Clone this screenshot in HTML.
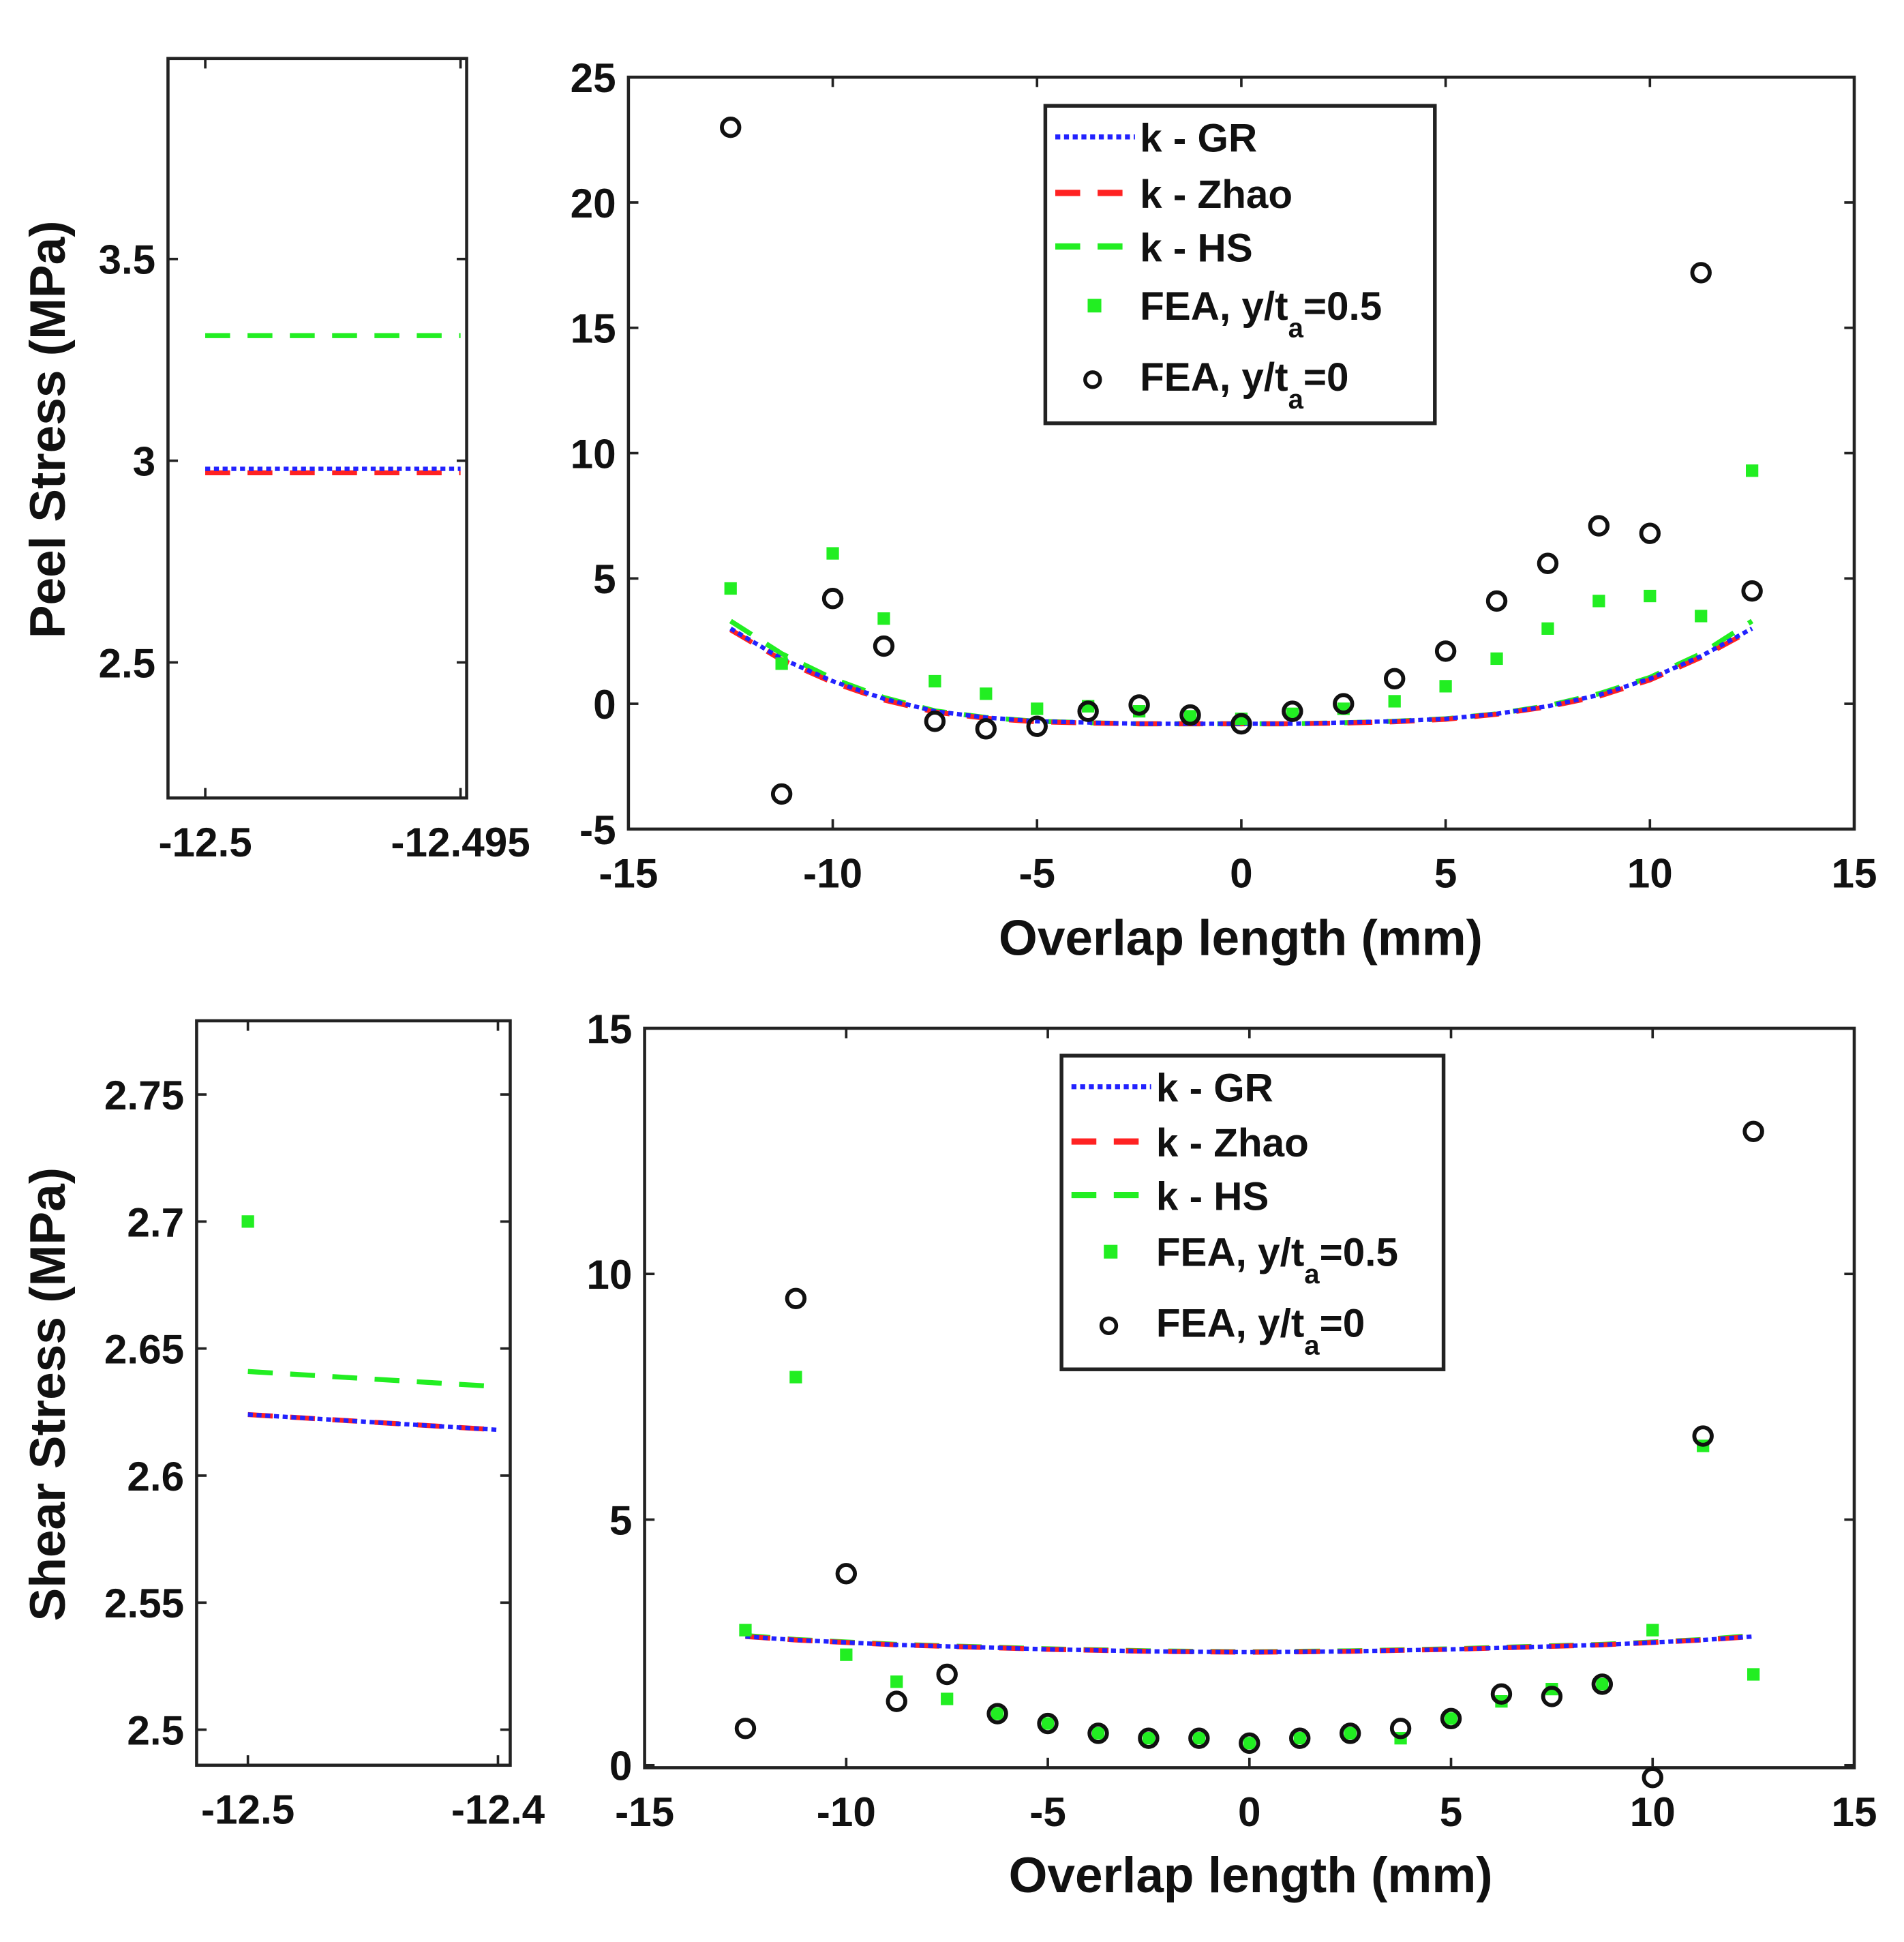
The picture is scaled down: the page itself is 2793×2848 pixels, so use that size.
<!DOCTYPE html>
<html><head><meta charset="utf-8">
<style>
html,body{margin:0;padding:0;background:#fff;}
svg{display:block;}
text{font-family:"Liberation Sans",Arial,sans-serif;font-weight:bold;fill:#111;}
</style></head>
<body>
<svg id="fig" width="2793" height="2848" viewBox="0 0 1530 1560" preserveAspectRatio="none" xmlns="http://www.w3.org/2000/svg"></svg>
<script>
// ---------- data ----------
const xPts = [-12.5,-11.25,-10,-8.75,-7.5,-6.25,-5,-3.75,-2.5,-1.25,0,1.25,2.5,3.75,5,6.25,7.5,8.75,10,11.25,12.5];
const peelFea0 = [23,-3.6,4.2,2.3,-0.7,-1,-0.9,-0.3,-0.05,-0.45,-0.8,-0.3,0,1,2.1,4.1,5.6,7.1,6.8,17.2,4.5];
const peelFea05 = [4.6,1.6,6,3.4,0.9,0.4,-0.2,-0.1,-0.3,-0.5,-0.6,-0.4,-0.2,0.1,0.7,1.8,3,4.1,4.3,3.5,9.3];
const peelGR = [3.0,1.8,0.9,0.2,-0.3,-0.55,-0.7,-0.75,-0.8,-0.8,-0.8,-0.8,-0.75,-0.7,-0.6,-0.4,-0.1,0.35,1.0,1.9,3.0];
const peelZhao = [2.95,1.75,0.85,0.15,-0.33,-0.58,-0.72,-0.77,-0.8,-0.8,-0.8,-0.8,-0.77,-0.72,-0.62,-0.42,-0.12,0.3,0.95,1.85,2.95];
const peelHS = [3.3,2.0,1.0,0.25,-0.28,-0.55,-0.7,-0.76,-0.8,-0.8,-0.8,-0.8,-0.76,-0.7,-0.6,-0.4,-0.08,0.4,1.05,2.0,3.3];
const shearFea0 = [0.75,9.5,3.9,1.3,1.85,1.05,0.85,0.65,0.55,0.55,0.45,0.55,0.65,0.75,0.95,1.45,1.4,1.65,-0.25,6.7,12.9];
const shearFea05 = [2.75,7.9,2.25,1.7,1.35,1.05,0.85,0.65,0.55,0.55,0.45,0.55,0.65,0.55,0.95,1.3,1.55,1.65,2.75,6.5,1.85];
const shearGR = [2.62,2.55,2.5,2.45,2.42,2.39,2.36,2.34,2.32,2.31,2.3,2.31,2.32,2.34,2.36,2.39,2.42,2.45,2.5,2.55,2.62];
const shearHS = [2.64,2.56,2.51,2.46,2.43,2.4,2.37,2.35,2.33,2.32,2.31,2.32,2.33,2.35,2.37,2.4,2.43,2.46,2.51,2.56,2.64];
// insets
const peelInsetX = [-12.5,-12.495];
const peelInsetGR = [2.98,2.98];
const peelInsetZhao = [2.97,2.97];
const peelInsetHS = [3.31,3.31];
const shearInsetX = [-12.5,-12.4];
const shearInsetGR = [2.624,2.618];
const shearInsetHS = [2.641,2.635];
const shearInsetFeaX = [-12.5];
const shearInsetFea05 = [2.70];
const mainXTicks = [-15,-10,-5,0,5,10,15];
const peelYTicks = [-5,0,5,10,15,20,25];
const shearYTicks = [0,5,10,15];
const peelInsetYTicks = [2.5,3,3.5];
const shearInsetYTicks = [2.5,2.55,2.6,2.65,2.7,2.75];
const legendLabels = ["k - GR","k - Zhao","k - HS","FEA, y/t","FEA, y/t"];

const NS="http://www.w3.org/2000/svg";
const svg=document.getElementById('fig');
function mk(tag,attrs,parent){const e=document.createElementNS(NS,tag);for(const k in attrs)e.setAttribute(k,attrs[k]);(parent||svg).appendChild(e);return e;}

function panel(name,box,xd,yd,xticks,yticks,xfmt,yfmt){
  const g=mk('g',{});
  
  
  const sx=v=>box.l+(v-xd[0])/(xd[1]-xd[0])*(box.r-box.l);
  const sy=v=>box.b-(v-yd[0])/(yd[1]-yd[0])*(box.b-box.t);
  const r=mk('rect',{x:box.l,y:box.t,width:box.r-box.l,height:box.b-box.t,fill:'#fff',stroke:'#222','stroke-width':2.5},g);
  
  
  xticks.forEach(v=>{const x=sx(v);
    mk('line',{x1:x,x2:x,y1:box.b,y2:box.b-8,stroke:'#222','stroke-width':2},g);
    mk('line',{x1:x,x2:x,y1:box.t,y2:box.t+8,stroke:'#222','stroke-width':2},g);
    const t=mk('text',{x:x,y:box.b+47,'text-anchor':'middle','font-size':33},g);t.textContent=xfmt(v);
    
    
  });
  yticks.forEach(v=>{const y=sy(v);
    mk('line',{x1:box.l,x2:box.l+8,y1:y,y2:y,stroke:'#222','stroke-width':2},g);
    mk('line',{x1:box.r,x2:box.r-8,y1:y,y2:y,stroke:'#222','stroke-width':2},g);
    const t=mk('text',{x:box.l-10,y:y+12,'text-anchor':'end','font-size':33},g);t.textContent=yfmt(v);
    
    
  });
  return {g,sx,sy};
}
function line(P,xs,ys,color,dash,w,name){
  const d=xs.map((x,i)=>(i?'L':'M')+P.sx(x).toFixed(1)+' '+P.sy(ys[i]).toFixed(1)).join(' ');
  const p=mk('path',{d:d,fill:'none',stroke:color,'stroke-width':w,'stroke-dasharray':dash},P.g);
  
  
}
function squares(P,xs,ys,name){xs.forEach((x,i)=>{const r=mk('rect',{x:P.sx(x)-5,y:P.sy(ys[i])-5,width:10,height:10,fill:'#22ee22'},P.g);
  
  });}
function circles(P,xs,ys,name){xs.forEach((x,i)=>{const c=mk('circle',{cx:P.sx(x),cy:P.sy(ys[i]),r:7,fill:'none',stroke:'#111','stroke-width':3.2},P.g);
  
  });}
function legend(x,y,w,h,rows,name){
  const g=mk('g',{});
  
  
  mk('rect',{x:x,y:y,width:w,height:h,fill:'#fff',stroke:'#222','stroke-width':3},g);
  const styles=[['#2222ff','4 3',4],['#ff2222','20 14',5],['#22ee22','20 14',5]];
  rows.forEach((ry,i)=>{
    if(i<3){const s=styles[i];mk('line',{x1:x+8,x2:x+72,y1:ry,y2:ry,stroke:s[0],'stroke-dasharray':s[1],'stroke-width':s[2]},g);}
    else if(i==3){mk('rect',{x:x+34,y:ry-5,width:11,height:11,fill:'#22ee22'},g);}
    else {mk('circle',{cx:x+38,cy:ry+3,r:6,fill:'none',stroke:'#111','stroke-width':3},g);}
    const t=mk('text',{x:x+76,y:ry+12,'font-size':32},g);
    
    
    t.textContent=legendLabels[i];
    if(i>=3){const s=mk('tspan',{dy:14,'font-size':22},t);s.textContent='a';
      const s2=mk('tspan',{dy:-14},t);s2.textContent=i==3?'=0.5':'=0';}
  });
}
const fmtInt=v=>String(v);
let P=panel('peel-inset',{l:135,r:375,t:47,b:641},[-12.50073,-12.49488],[2.164,3.997],peelInsetX,peelInsetYTicks,v=>String(v),v=>String(v));
line(P,peelInsetX,peelInsetHS,'#22ee22','20 14',4,'inset-hs-line');
line(P,peelInsetX,peelInsetZhao,'#ff2222','20 14',4,'inset-zhao-line');
line(P,peelInsetX,peelInsetGR,'#2222ff','4 3',3.5,'inset-gr-line');
P=panel('peel-main',{l:505,r:1490,t:62,b:666},[-15,15],[-5,25],mainXTicks,peelYTicks,fmtInt,fmtInt);
line(P,xPts,peelHS,'#22ee22','20 14',4,'peel-hs-line');
line(P,xPts,peelZhao,'#ff2222','20 14',4,'peel-zhao-line');
line(P,xPts,peelGR,'#2222ff','4 3',3.5,'peel-gr-line');
squares(P,xPts,peelFea05,'peel-fea-05-point');
circles(P,xPts,peelFea0,'peel-fea-0-point');
legend(840,85,313,255,[110,155,198,245,302],'peel-legend');
P=panel('shear-inset',{l:158,r:410,t:820,b:1418},[-12.5205,-12.3951],[2.486,2.779],shearInsetX,shearInsetYTicks,v=>String(v),v=>String(v));
line(P,shearInsetX,shearInsetHS,'#22ee22','20 14',4,'inset-hs-line');
line(P,shearInsetX,shearInsetGR,'#ff2222','20 14',4,'inset-zhao-line');
line(P,shearInsetX,shearInsetGR,'#2222ff','4 3',3.5,'inset-gr-line');
squares(P,shearInsetFeaX,shearInsetFea05,'inset-fea-05-point');
P=panel('shear-main',{l:518,r:1490,t:826,b:1420},[-15,15],[-0.05,15],mainXTicks,shearYTicks,fmtInt,fmtInt);
line(P,xPts,shearHS,'#22ee22','20 14',4,'shear-hs-line');
line(P,xPts,shearGR,'#ff2222','20 14',4,'shear-zhao-line');
line(P,xPts,shearGR,'#2222ff','4 3',3.5,'shear-gr-line');
squares(P,xPts,shearFea05,'shear-fea-05-point');
circles(P,xPts,shearFea0,'shear-fea-0-point');
legend(853,848,307,252,[873,917,960,1005,1062],'shear-legend');
function title(txt,x,y,rot,name){const t=mk('text',{x:x,y:y,'text-anchor':'middle','font-size':40,transform:rot?`rotate(-90 ${x} ${y})`:''});t.textContent=txt;
  
  }
title('Overlap length (mm)',997,767,false,'peel-x-axis-title');
title('Overlap length (mm)',1005,1520,false,'shear-x-axis-title');
title('Peel Stress (MPa)',52,345,true,'peel-y-axis-title');
title('Shear Stress (MPa)',52,1120,true,'shear-y-axis-title');
</script>
</body></html>
